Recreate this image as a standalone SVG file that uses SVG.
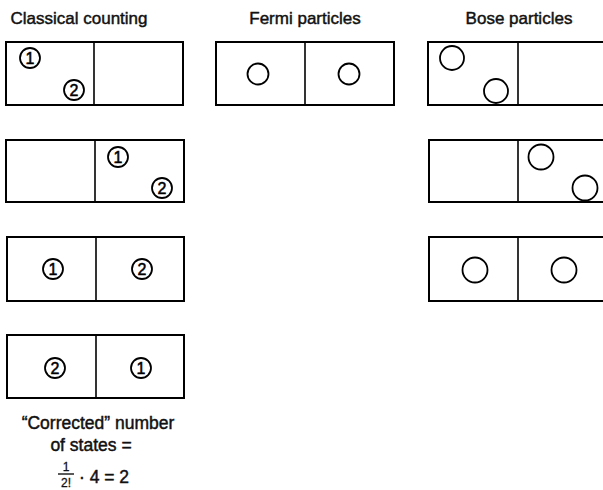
<svg xmlns="http://www.w3.org/2000/svg" width="603" height="490" viewBox="0 0 603 490">
<style>
.box{fill:none;stroke:#000;stroke-width:2}
.div{stroke:#000;stroke-width:1.6}
.c{fill:none;stroke:#000;stroke-width:1.8}
.n{font-family:"Liberation Sans",Arial,sans-serif;font-size:16px;text-anchor:middle;stroke:#000;stroke-width:0.5}
.t{font-family:"Liberation Sans",Arial,sans-serif;font-size:17px;text-anchor:middle;fill:#111;stroke:#111;stroke-width:0.45}
.cap{font-size:17.5px}
</style>
<rect width="603" height="490" fill="#fff"/>
<g id="titles">
<text class="t" x="79" y="24">Classical counting</text>
<text class="t" x="305" y="24">Fermi particles</text>
<text class="t" x="519" y="24">Bose particles</text>
</g>
<g id="classical1">
<rect class="box" x="6" y="42" width="177" height="63"/>
<line class="div" x1="94" y1="42" x2="94" y2="105"/>
<circle class="c" cx="30" cy="58" r="10"/><text class="n" x="30" y="63.8">1</text>
<circle class="c" cx="74" cy="90" r="10"/><text class="n" x="74" y="95.8">2</text>
</g>
<g id="classical2">
<rect class="box" x="6" y="140" width="178" height="62"/>
<line class="div" x1="95" y1="140" x2="95" y2="202"/>
<circle class="c" cx="118" cy="157" r="10"/><text class="n" x="118" y="162.8">1</text>
<circle class="c" cx="162" cy="188" r="10"/><text class="n" x="162" y="193.8">2</text>
</g>
<g id="classical3">
<rect class="box" x="7" y="237" width="177" height="64"/>
<line class="div" x1="96" y1="237" x2="96" y2="301"/>
<circle class="c" cx="53" cy="269" r="10"/><text class="n" x="53" y="274.8">1</text>
<circle class="c" cx="142" cy="269" r="10"/><text class="n" x="142" y="274.8">2</text>
</g>
<g id="classical4">
<rect class="box" x="7" y="335" width="177" height="63"/>
<line class="div" x1="96" y1="335" x2="96" y2="398"/>
<circle class="c" cx="55" cy="368" r="10"/><text class="n" x="55" y="373.8">2</text>
<circle class="c" cx="141" cy="368" r="10"/><text class="n" x="141" y="373.8">1</text>
</g>
<g id="fermi1">
<rect class="box" x="216" y="42" width="178" height="63"/>
<line class="div" x1="305" y1="42" x2="305" y2="105"/>
<circle class="c" cx="258" cy="74" r="10.5"/>
<circle class="c" cx="349" cy="74" r="10.5"/>
</g>
<g id="bose1">
<rect class="box" x="428" y="42" width="185" height="63"/>
<line class="div" x1="518" y1="42" x2="518" y2="105"/>
<circle class="c" cx="452" cy="58" r="12"/>
<circle class="c" cx="496" cy="91" r="12"/>
</g>
<g id="bose2">
<rect class="box" x="429" y="140" width="185" height="62"/>
<line class="div" x1="518" y1="140" x2="518" y2="202"/>
<circle class="c" cx="541" cy="157" r="12.5"/>
<circle class="c" cx="585" cy="188" r="12.5"/>
</g>
<g id="bose3">
<rect class="box" x="429" y="237" width="185" height="64"/>
<line class="div" x1="518" y1="237" x2="518" y2="301"/>
<circle class="c" cx="475" cy="270" r="12.5"/>
<circle class="c" cx="564" cy="270" r="12.5"/>
</g>
<g id="caption">
<text class="t cap" x="98" y="429">“Corrected” number</text>
<text class="t cap" x="91" y="451">of states =</text>
<text class="t" x="66" y="471" style="font-size:12px;stroke-width:0.3">1</text>
<line x1="58" y1="474" x2="74" y2="474" stroke="#000" stroke-width="1.3"/>
<text class="t" x="66" y="487" style="font-size:12px;stroke-width:0.3">2!</text>
<text class="t cap" x="79" y="483" style="text-anchor:start">· 4 = 2</text>
</g>
<g id="connectors"></g>
</svg>
